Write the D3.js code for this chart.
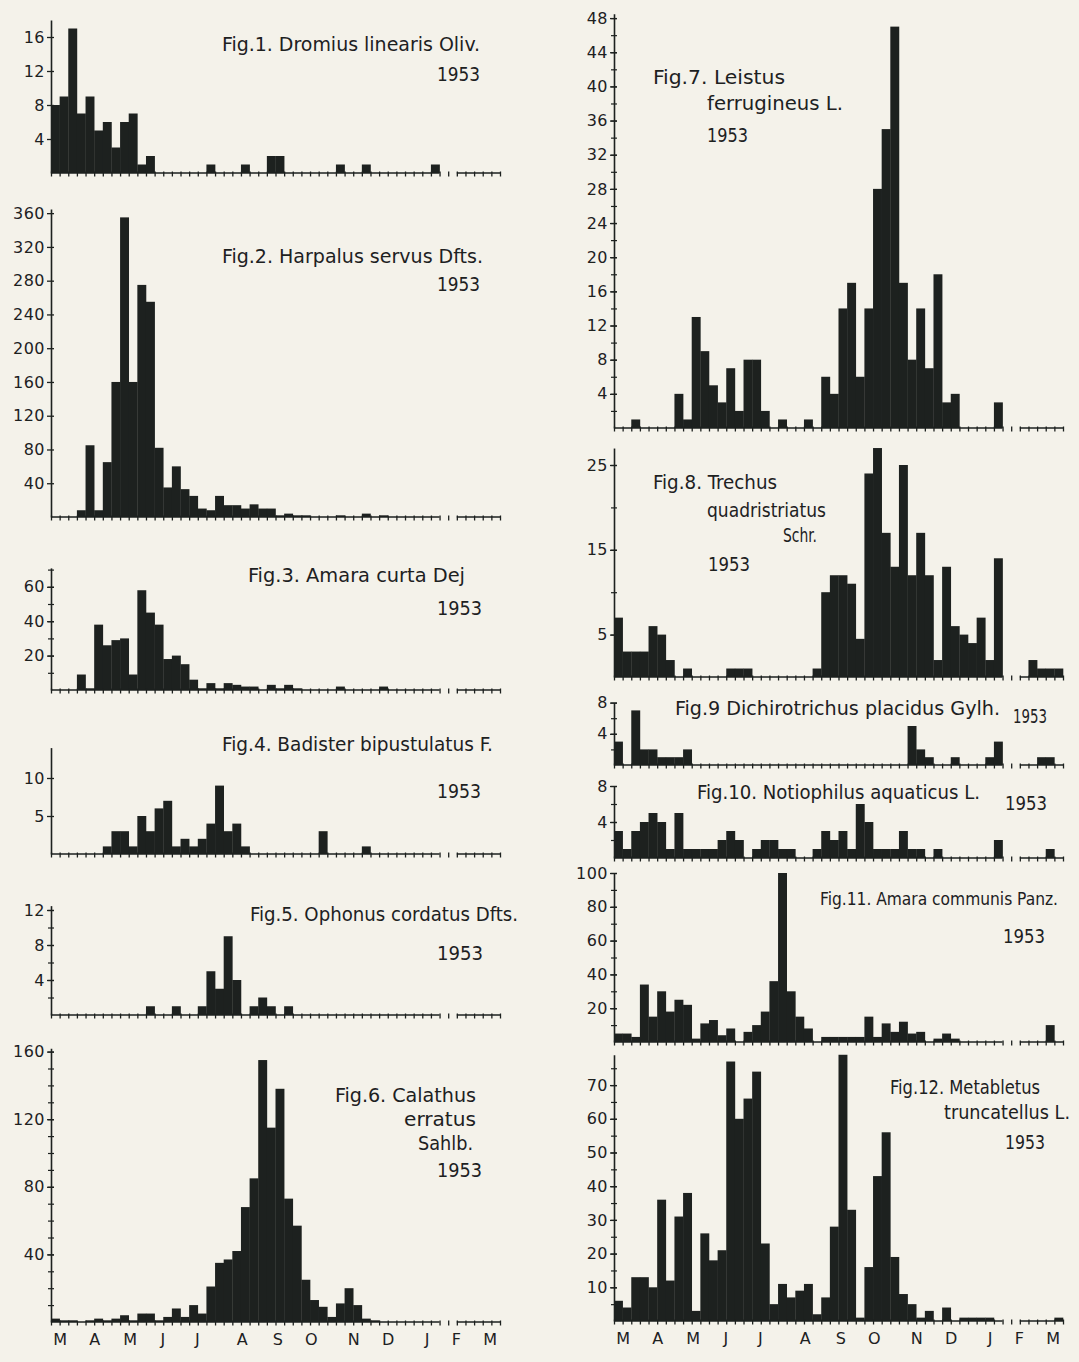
<!DOCTYPE html>
<html>
<head>
<meta charset="utf-8">
<script src="https://cdn.jsdelivr.net/npm/d3@7"></script>
<style>
  body { margin: 0; background: #f4f2ea; }
  svg { display: block; }
</style>
</head>
<body>
<svg id="chart" width="1079" height="1362"></svg>
<script>
// weekly catches, March 1953 - March 1954, one bar per week
const weeks = d3.range(52)
const gapWeeks = [45, 46]   // no catches made here, axis left open

const monthLabels = ["M", "A", "M", "J", "J", "A", "S", "O", "N", "D", "J", "F", "M"]
const monthWeeks = [1, 5, 9.1, 12.9, 16.9, 22.1, 26.2, 30.1, 35, 39, 43.5, 46.9, 50.8]

const fig1Counts = [8, 9, 17, 7, 9, 5, 6, 3, 6, 7,
  1, 2, 0, 0, 0, 0, 0, 0, 1, 0,
  0, 0, 1, 0, 0, 2, 2, 0, 0, 0,
  0, 0, 0, 1, 0, 0, 1, 0, 0, 0,
  0, 0, 0, 0, 1, 0, 0, 0, 0, 0,
  0, 0]
const fig2Counts = [0, 0, 0, 8, 85, 8, 65, 160, 355, 160,
  275, 255, 82, 35, 60, 33, 25, 10, 8, 25,
  14, 14, 10, 15, 10, 10, 2, 4, 2, 2,
  0, 0, 0, 2, 0, 0, 4, 0, 2, 0,
  0, 0, 0, 0, 0, 0, 0, 0, 0, 0,
  0, 0]
const fig3Counts = [0, 0, 0, 9, 1, 38, 26, 29, 30, 9,
  58, 45, 38, 18, 20, 15, 6, 1, 4, 1,
  4, 3, 2, 2, 0, 3, 1, 3, 1, 0,
  0, 0, 0, 2, 0, 0, 0, 0, 2, 0,
  0, 0, 0, 0, 0, 0, 0, 0, 0, 0,
  0, 0]
const fig4Counts = [0, 0, 0, 0, 0, 0, 1, 3, 3, 1,
  5, 3, 6, 7, 1, 2, 1, 2, 4, 9,
  3, 4, 1, 0, 0, 0, 0, 0, 0, 0,
  0, 3, 0, 0, 0, 0, 1, 0, 0, 0,
  0, 0, 0, 0, 0, 0, 0, 0, 0, 0,
  0, 0]
const fig5Counts = [0, 0, 0, 0, 0, 0, 0, 0, 0, 0,
  0, 1, 0, 0, 1, 0, 0, 1, 5, 3,
  9, 4, 0, 1, 2, 1, 0, 1, 0, 0,
  0, 0, 0, 0, 0, 0, 0, 0, 0, 0,
  0, 0, 0, 0, 0, 0, 0, 0, 0, 0,
  0, 0]
const fig6Counts = [2, 1, 1, 0, 1, 2, 1, 2, 4, 1,
  5, 5, 1, 3, 8, 3, 10, 5, 21, 35,
  37, 42, 68, 85, 155, 115, 138, 73, 57, 25,
  13, 9, 3, 11, 20, 10, 2, 1, 0, 0,
  0, 0, 0, 0, 0, 0, 0, 0, 0, 0,
  0, 0]
const fig7Counts = [0, 0, 1, 0, 0, 0, 0, 4, 1, 13,
  9, 5, 3, 7, 2, 8, 8, 2, 0, 1,
  0, 0, 1, 0, 6, 4, 14, 17, 6, 14,
  28, 35, 47, 17, 8, 14, 7, 18, 3, 4,
  0, 0, 0, 0, 3, 0, 0, 0, 0, 0,
  0, 0]
const fig8Counts = [7, 3, 3, 3, 6, 5, 2, 0, 1, 0,
  0, 0, 0, 1, 1, 1, 0, 0, 0, 0,
  0, 0, 0, 1, 10, 12, 12, 11, 4.5, 24,
  27, 17, 13, 25, 12, 17, 12, 2, 13, 6,
  5, 4, 7, 2, 14, 0, 0, 0, 2, 1,
  1, 1]
const fig9Counts = [3, 0, 7, 2, 2, 1, 1, 1, 2, 0,
  0, 0, 0, 0, 0, 0, 0, 0, 0, 0,
  0, 0, 0, 0, 0, 0, 0, 0, 0, 0,
  0, 0, 0, 0, 5, 2, 1, 0, 0, 1,
  0, 0, 0, 1, 3, 0, 0, 0, 0, 1,
  1, 0]
const fig10Counts = [3, 1, 3, 4, 5, 4, 1, 5, 1, 1,
  1, 1, 2, 3, 2, 0, 1, 2, 2, 1,
  1, 0, 0, 1, 3, 2, 3, 1, 6, 4,
  1, 1, 1, 3, 1, 1, 0, 1, 0, 0,
  0, 0, 0, 0, 2, 0, 0, 0, 0, 0,
  1, 0]
const fig11Counts = [5, 5, 3, 34, 15, 30, 18, 25, 22, 2,
  11, 13, 4, 8, 0, 6, 10, 18, 36, 100,
  30, 15, 8, 0, 3, 3, 3, 3, 3, 15,
  3, 11, 6, 12, 5, 6, 0, 2, 5, 2,
  0, 0, 0, 0, 0, 0, 0, 0, 0, 0,
  10, 0]
const fig12Counts = [6, 4, 13, 13, 10, 36, 12, 31, 38, 3,
  26, 18, 21, 77, 60, 66, 74, 23, 5, 11,
  7, 9, 11, 2, 7, 28, 79, 33, 1, 16,
  43, 56, 19, 8, 5, 1, 3, 0, 4, 0,
  1, 1, 1, 1, 0, 0, 0, 0, 0, 0,
  0, 1]

// y tick labels
const fig1Ticks = [4, 8, 12, 16]
const fig2Ticks = [40, 80, 120, 160, 200, 240, 280, 320, 360]
const fig3Ticks = [20, 40, 60]
const fig4Ticks = [5, 10]
const fig5Ticks = [4, 8, 12]
const fig6Ticks = [40, 80, 120, 160]
const fig7Ticks = [4, 8, 12, 16, 20, 24, 28, 32, 36, 40, 44, 48]
const fig8Ticks = [5, 15, 25]
const fig9Ticks = [4, 8]
const fig10Ticks = [4, 8]
const fig11Ticks = [20, 40, 60, 80, 100]
const fig12Ticks = [10, 20, 30, 40, 50, 60, 70]

var ink = "#1d211f"
var colX = [51, 614]
var colW = 449

// layout of each small chart: baseline, px per unit, axis top, minor tick step, title lines
var panels = [
  { data: fig1Counts, ticks: fig1Ticks, col: 0, base: 173, ppu: 8.5, top: 18, minor: 0,
    titles: [["Fig.1. Dromius linearis Oliv.", 222, 480, 51], ["1953", 437, 480, 81]] },
  { data: fig2Counts, ticks: fig2Ticks, col: 0, base: 517, ppu: 0.844, top: 365, minor: 0,
    titles: [["Fig.2. Harpalus servus Dfts.", 222, 483, 263], ["1953", 437, 480, 291]] },
  { data: fig3Counts, ticks: fig3Ticks, col: 0, base: 690, ppu: 1.72, top: 71, minor: 10,
    titles: [["Fig.3. Amara curta Dej", 248, 465, 582], ["1953", 437, 482, 615]] },
  { data: fig4Counts, ticks: fig4Ticks, col: 0, base: 854, ppu: 7.6, top: 14, minor: 0,
    titles: [["Fig.4. Badister bipustulatus F.", 222, 493, 751], ["1953", 437, 481, 798]] },
  { data: fig5Counts, ticks: fig5Ticks, col: 0, base: 1015, ppu: 8.75, top: 12.5, minor: 2,
    titles: [["Fig.5. Ophonus cordatus Dfts.", 250, 518, 921], ["1953", 437, 483, 960]] },
  { data: fig6Counts, ticks: fig6Ticks, col: 0, base: 1322, ppu: 1.69, top: 162, minor: 10, months: true,
    titles: [["Fig.6. Calathus", 335, 476, 1102], ["erratus", 404, 476, 1126], ["Sahlb.", 418, 473, 1150], ["1953", 437, 482, 1177]] },
  { data: fig7Counts, ticks: fig7Ticks, col: 1, base: 428, ppu: 8.54, top: 48.5, minor: 2,
    titles: [["Fig.7. Leistus", 653, 785, 84], ["ferrugineus L.", 707, 843, 110], ["1953", 707, 748, 142]] },
  { data: fig8Counts, ticks: fig8Ticks, col: 1, base: 677, ppu: 8.48, top: 27, minor: 5,
    titles: [["Fig.8. Trechus", 653, 777, 489], ["quadristriatus", 707, 826, 517], ["Schr.", 783, 817, 542], ["1953", 708, 750, 571]] },
  { data: fig9Counts, ticks: fig9Ticks, col: 1, base: 765, ppu: 7.8, top: 8, minor: 2,
    titles: [["Fig.9 Dichirotrichus placidus Gylh.", 675, 1000, 715], ["1953", 1013, 1047, 723]] },
  { data: fig10Counts, ticks: fig10Ticks, col: 1, base: 858, ppu: 9, top: 8, minor: 2,
    titles: [["Fig.10. Notiophilus  aquaticus L.", 697, 980, 799], ["1953", 1005, 1047, 810]] },
  { data: fig11Counts, ticks: fig11Ticks, col: 1, base: 1042, ppu: 1.69, top: 100, minor: 10,
    titles: [["Fig.11. Amara communis Panz.", 820, 1058, 905], ["1953", 1003, 1045, 943]] },
  { data: fig12Counts, ticks: fig12Ticks, col: 1, base: 1321, ppu: 3.37, top: 79, minor: 5, months: true,
    titles: [["Fig.12. Metabletus", 890, 1040, 1094], ["truncatellus L.", 944, 1070, 1119], ["1953", 1005, 1045, 1149]] }
]

var svg = d3.select("#chart")

panels.forEach(function(p) {
  var x = d3.scaleLinear()
    .domain([0, 52])
    .range([colX[p.col], colX[p.col] + colW])
  var y = d3.scaleLinear()
    .domain([0, p.top])
    .range([p.base, p.base - p.top * p.ppu])

  var g = svg.append("g")

  // bars
  g.selectAll(".bar")
    .data(weeks.filter(function(w) { return p.data[w] > 0 }))
    .enter()
    .append("rect")
    .attr("class", "bar")
    .attr("x", function(w) { return x(w) })
    .attr("width", function(w) { return x(w + 1) - x(w) + 0.3 })
    .attr("y", function(w) { return y(p.data[w]) })
    .attr("height", function(w) { return y(0) - y(p.data[w]) })
    .attr("fill", ink)

  // x axis: week ticks, line broken over the gap
  var gx = g.append("g")
    .attr("transform", "translate(0," + p.base + ")")
    .call(d3.axisBottom(x).tickValues(d3.range(0, 53)).tickSize(0).tickFormat(""))
  gx.select(".domain").remove()
  gx.selectAll(".tick line")
    .attr("y1", -1.5)
    .attr("y2", 3.5)
    .attr("stroke", ink)
    .attr("stroke-width", 1.3)

  var segs = [[0, gapWeeks[0]], [gapWeeks[gapWeeks.length - 1] + 1, 52]]
  g.selectAll(".xline")
    .data(segs)
    .enter()
    .append("line")
    .attr("class", "xline")
    .attr("x1", function(d) { return x(d[0]) })
    .attr("x2", function(d) { return x(d[1]) })
    .attr("y1", p.base)
    .attr("y2", p.base)
    .attr("stroke", ink)
    .attr("stroke-width", 1.6)

  // y axis, minor ticks first
  if (p.minor) {
    var gm = g.append("g")
      .attr("transform", "translate(" + colX[p.col] + ",0)")
      .call(d3.axisLeft(y).tickValues(d3.range(p.minor, p.top + 0.01, p.minor)).tickSize(0).tickFormat(""))
    gm.select(".domain").remove()
    gm.selectAll(".tick line").attr("x1", -3).attr("x2", 3).attr("stroke", ink).attr("stroke-width", 1.2)
  }
  var gy = g.append("g")
    .attr("transform", "translate(" + colX[p.col] + ",0)")
    .call(d3.axisLeft(y).tickValues(p.ticks).tickSize(0).tickSizeOuter(0).tickPadding(6))
  gy.attr("font-family", "DejaVu Sans, sans-serif")
    .attr("font-size", 16)
  gy.select(".domain").attr("stroke", ink).attr("stroke-width", 1.6)
  gy.selectAll(".tick line").attr("x1", -4).attr("x2", 3).attr("stroke", ink).attr("stroke-width", 1.3)
  gy.selectAll(".tick text").attr("fill", ink).attr("letter-spacing", 0.5)

  // month letters under the bottom charts
  if (p.months) {
    var gmo = g.append("g")
      .attr("transform", "translate(0," + p.base + ")")
      .call(d3.axisBottom(x).tickValues(monthWeeks).tickSize(0).tickPadding(12)
        .tickFormat(function(d, i) { return monthLabels[i] }))
    gmo.select(".domain").remove()
    gmo.attr("font-family", "DejaVu Sans, sans-serif").attr("font-size", 16)
    gmo.selectAll(".tick text").attr("fill", ink)
  }

  // titles, squeezed to the width of the hand lettering
  g.selectAll(".title")
    .data(p.titles)
    .enter()
    .append("text")
    .attr("class", "title")
    .attr("x", function(d) { return d[1] })
    .attr("y", function(d) { return d[3] })
    .style("font-family", "DejaVu Sans Condensed, DejaVu Sans, sans-serif")
    .style("font-size", "20px")
    .style("fill", ink)
    .text(function(d) { return d[0] })
    .each(function(d) {
      // keep the natural width inside the page so nothing runs off the edge
      var natural = this.getComputedTextLength()
      if (d[1] + natural > 1072) {
        d3.select(this).style("font-size", (20 * (1072 - d[1]) / natural) + "px")
      }
    })
    .attr("textLength", function(d) { return d[2] - d[1] })
    .attr("lengthAdjust", "spacingAndGlyphs")
})
</script>
</body>
</html>
